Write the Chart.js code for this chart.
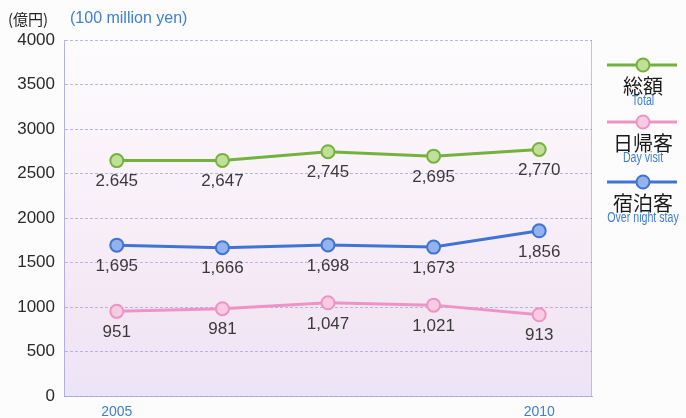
<!DOCTYPE html>
<html>
<head>
<meta charset="utf-8">
<script src="https://cdn.jsdelivr.net/npm/chart.js@4/dist/chart.umd.min.js"></script>
<style>
  html, body { margin: 0; padding: 0; background: #fcfcfc; }
  #wrap { position: relative; width: 686px; height: 418px; }
</style>
</head>
<body>
<div id="wrap"><canvas id="chart" width="686" height="418"></canvas></div>
<script>
// ─── Data ───
const years = ['2005', '', '', '', '2010'];
const totalValues = [2645, 2647, 2745, 2695, 2770];
const dayVisitValues = [951, 981, 1047, 1021, 913];
const overnightValues = [1695, 1666, 1698, 1673, 1856];
// value labels as printed (first total label uses a period in the source)
const totalLabels = ['2.645', '2,647', '2,745', '2,695', '2,770'];
const dayVisitLabels = ['951', '981', '1,047', '1,021', '913'];
const overnightLabels = ['1,695', '1,666', '1,698', '1,673', '1,856'];
const yTicks = [0, 500, 1000, 1500, 2000, 2500, 3000, 3500, 4000];

const legendItems = [
    { jp: '総額', en: 'Total', line: '#74b23e', fill: '#bfe096', y: 65 },
    { jp: '日帰客', en: 'Day visit', line: '#ef93c6', fill: '#f8cbe3', y: 122 },
    { jp: '宿泊客', en: 'Over night stay', line: '#3f74d4', fill: '#94b3ee', y: 182 },
];

const BLUE_TEXT = '#3d7fd0';
const FONT = "'Liberation Sans', Arial, sans-serif";

// plot area gradient background
const plotBackground = {
    id: 'plotBackground',
    beforeDraw(chart) {
        const { ctx, chartArea: a } = chart;
        const g = ctx.createLinearGradient(0, a.top, 0, a.bottom);
        g.addColorStop(0, '#fdfcfe');
        g.addColorStop(0.45, '#f8f0f8');
        g.addColorStop(0.75, '#f4e7f4');
        g.addColorStop(1, '#ece4f7');
        ctx.save();
        ctx.fillStyle = g;
        ctx.fillRect(a.left, a.top, a.right - a.left, a.bottom - a.top);
        ctx.strokeStyle = 'rgba(170,170,225,0.7)';
        ctx.lineWidth = 1;
        ctx.beginPath();
        ctx.moveTo(a.right - 0.5, a.top);
        ctx.lineTo(a.right - 0.5, a.bottom);
        ctx.stroke();
        ctx.restore();
    },
};

// value labels under each point
const valueLabels = {
    id: 'valueLabels',
    afterDatasetsDraw(chart) {
        const { ctx } = chart;
        ctx.save();
        ctx.font = '17px ' + FONT;
        ctx.fillStyle = '#3a3a3a';
        ctx.textAlign = 'center';
        ctx.textBaseline = 'middle';
        chart.data.datasets.forEach((ds, i) => {
            chart.getDatasetMeta(i).data.forEach((pt, j) => {
                ctx.fillText(ds.valueText[j], pt.x, pt.y + 21);
            });
        });
        ctx.restore();
    },
};

// unit caption and right-hand legend
const captions = {
    id: 'captions',
    afterDraw(chart) {
        const { ctx } = chart;
        ctx.save();
        ctx.textBaseline = 'middle';
        ctx.textAlign = 'left';
        ctx.font = "15px 'Noto Sans CJK JP', sans-serif";
        ctx.fillStyle = '#222';
        ctx.fillText('(億円)', 8, 19);
        ctx.font = '16px ' + FONT;
        ctx.fillStyle = BLUE_TEXT;
        ctx.fillText('(100 million yen)', 70, 19);

        ctx.textAlign = 'center';
        ctx.textBaseline = 'alphabetic';
        const cx = 643;
        legendItems.forEach(it => {
            const y = it.y;
            ctx.strokeStyle = it.line;
            ctx.lineWidth = 3;
            ctx.beginPath();
            ctx.moveTo(607, y);
            ctx.lineTo(677, y);
            ctx.stroke();
            ctx.beginPath();
            ctx.arc(cx, y, 6.5, 0, Math.PI * 2);
            ctx.fillStyle = it.fill;
            ctx.fill();
            ctx.lineWidth = 2;
            ctx.stroke();

            ctx.font = "20px 'Noto Sans CJK JP', sans-serif";
            ctx.fillStyle = '#1a1a1a';
            ctx.fillText(it.jp, cx, y + 29);

            // condensed English caption
            ctx.save();
            ctx.translate(cx, y + 40);
            ctx.scale(0.76, 1);
            ctx.font = '14px ' + FONT;
            ctx.fillStyle = BLUE_TEXT;
            ctx.fillText(it.en, 0, 0);
            ctx.restore();
        });
        ctx.restore();
    },
};

function series(data, valueText, line, fill) {
    return {
        data,
        valueText,
        borderColor: line,
        borderWidth: 3,
        pointRadius: 6.5,
        pointBorderWidth: 2,
        pointBackgroundColor: fill,
        pointBorderColor: line,
        tension: 0,
    };
}

new Chart(document.getElementById('chart'), {
    type: 'line',
    data: {
        labels: years,
        datasets: [
            series(totalValues, totalLabels, legendItems[0].line, legendItems[0].fill),
            series(dayVisitValues, dayVisitLabels, legendItems[1].line, legendItems[1].fill),
            series(overnightValues, overnightLabels, legendItems[2].line, legendItems[2].fill),
        ],
    },
    options: {
        responsive: false,
        animation: false,
        layout: { padding: { top: 40, right: 94, left: 0, bottom: 0 } },
        plugins: {
            legend: { display: false },
            tooltip: { enabled: false },
        },
        scales: {
            x: {
                offset: true,
                grid: { display: false },
                border: { color: 'rgba(160,160,220,0.8)', dash: [3, 2] },
                ticks: {
                    autoSkip: false,
                    maxRotation: 0,
                    color: BLUE_TEXT,
                    font: { size: 14, family: FONT },
                    padding: 0,
                },
                afterFit(scale) { scale.height = 22; },
            },
            y: {
                min: 0,
                max: 4000,
                afterBuildTicks(scale) { scale.ticks = yTicks.map(v => ({ value: v })); },
                grid: { color: 'rgba(160,160,225,0.75)', drawTicks: false },
                border: { color: 'rgba(160,160,225,0.8)', dash: [3, 2] },
                ticks: {
                    color: '#2a2a2a',
                    font: { size: 17, family: FONT },
                    padding: 9,
                    callback: v => String(v),
                },
                afterFit(scale) { scale.width = 64; },
            },
        },
    },
    plugins: [plotBackground, valueLabels, captions],
});
</script>
</body>
</html>
